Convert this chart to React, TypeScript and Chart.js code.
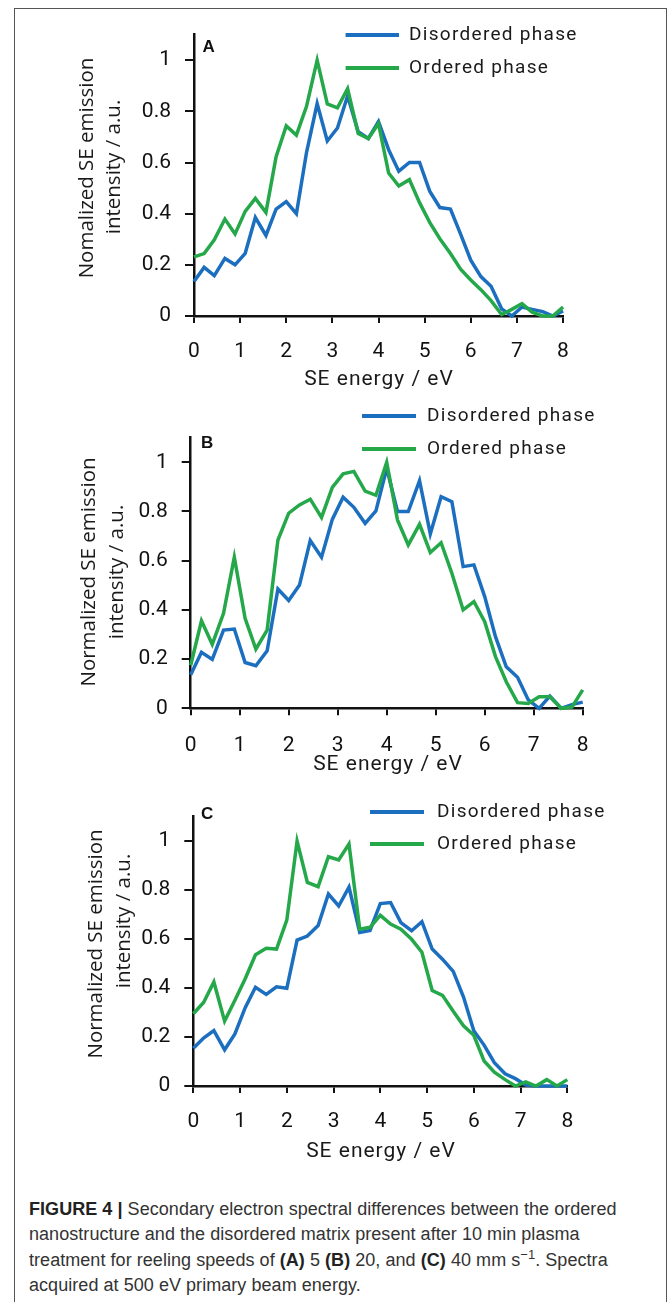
import React, { useEffect, useRef } from "react";
import { Chart, registerables } from "chart.js";

Chart.register(...registerables);

// ---------- data ----------
const ENERGY_EV = [
  0, 0.22, 0.44, 0.67, 0.89, 1.11, 1.33, 1.56, 1.78, 2, 2.22, 2.44, 2.67, 2.89, 3.11, 3.33, 3.56, 3.78, 4,
  4.22, 4.44, 4.67, 4.89, 5.11, 5.33, 5.56, 5.78, 6, 6.22, 6.44, 6.67, 6.89, 7.11, 7.33, 7.56, 7.78, 8,
];

const A_DISORDERED = [
  0.135, 0.19, 0.158, 0.225, 0.2, 0.245, 0.385, 0.315, 0.418, 0.447, 0.4, 0.64, 0.83, 0.684, 0.735, 0.86,
  0.72, 0.694, 0.76, 0.65, 0.566, 0.6, 0.6, 0.488, 0.424, 0.418, 0.32, 0.218, 0.154, 0.116, 0.028, 0,
  0.035, 0.026, 0.017, 0, 0.02,
];
const A_ORDERED = [
  0.231, 0.244, 0.298, 0.379, 0.321, 0.409, 0.46, 0.405, 0.623, 0.743, 0.707, 0.82, 1.0, 0.829, 0.814,
  0.889, 0.713, 0.694, 0.752, 0.559, 0.508, 0.533, 0.443, 0.366, 0.302, 0.244, 0.183, 0.141, 0.103, 0.06,
  0.006, 0.026, 0.048, 0.015, 0, 0, 0.035,
];
const B_DISORDERED = [
  0.136, 0.228, 0.199, 0.318, 0.322, 0.186, 0.173, 0.234, 0.485, 0.438, 0.501, 0.682, 0.614, 0.768, 0.858,
  0.817, 0.752, 0.802, 0.976, 0.8, 0.8, 0.925, 0.709, 0.86, 0.84, 0.576, 0.583, 0.454, 0.291, 0.169, 0.126,
  0.034, 0, 0.05, 0, 0.015, 0.025,
];
const B_ORDERED = [
  0.175, 0.356, 0.26, 0.386, 0.614, 0.366, 0.241, 0.318, 0.684, 0.793, 0.827, 0.85, 0.776, 0.898, 0.953,
  0.963, 0.883, 0.866, 1.0, 0.766, 0.664, 0.748, 0.633, 0.673, 0.549, 0.4, 0.434, 0.352, 0.21, 0.108, 0.023,
  0.02, 0.047, 0.047, 0, 0.005, 0.075,
];
const C_DISORDERED = [
  0.154, 0.196, 0.226, 0.148, 0.213, 0.32, 0.403, 0.374, 0.405, 0.399, 0.596, 0.612, 0.655, 0.784, 0.735,
  0.812, 0.627, 0.635, 0.745, 0.749, 0.667, 0.634, 0.671, 0.559, 0.518, 0.468, 0.363, 0.226, 0.167, 0.095,
  0.05, 0.03, 0.004, 0, 0, 0, 0,
];
const C_ORDERED = [
  0.295, 0.341, 0.425, 0.265, 0.35, 0.438, 0.536, 0.562, 0.559, 0.677, 1.0, 0.831, 0.814, 0.936, 0.923,
  0.988, 0.64, 0.648, 0.697, 0.661, 0.64, 0.599, 0.546, 0.39, 0.37, 0.305, 0.246, 0.207, 0.102, 0.056,
  0.026, 0, 0.017, 0, 0.026, 0, 0.026,
];

const X_TICKS = [0, 1, 2, 3, 4, 5, 6, 7, 8];
const Y_TICKS = [0, 0.2, 0.4, 0.6, 0.8, 1];
const Y_MAX = 1.1;
const SERIES_NAMES = ["Disordered phase", "Ordered phase"];
const PANEL_LETTERS = ["A", "B", "C"];
const Y_TITLE_LINE1 = ["Nomalized SE emission", "Normalized SE emission", "Normalized SE emission"];
const Y_TITLE_LINE2 = "intensity / a.u.";
const X_TITLE = "SE energy / eV";

// ---------- style ----------
const BLUE = "#1c6fbf";
const GREEN = "#25a84a";
const DIN = "Roboto, 'DejaVu Sans', sans-serif";
const SANS = "'Open Sans', 'DejaVu Sans', sans-serif";

type Spec = {
  top: number;
  height: number;
  left: number;
  right: number;
  chartTop: number;
  bottom: number;
  xPad: number;
  letter: [number, number];
  legend: { x1: number; x2: number; tx: number; y1: number; y2: number };
  yt1: [number, number];
  yt2: [number, number];
  xt: [number, number];
};

const SPECS: Spec[] = [
  {
    top: 8, height: 392, left: 194, right: 563, chartTop: 29.5, bottom: 316, xPad: 16,
    letter: [202.6, 47], legend: { x1: 345.6, x2: 399, tx: 409, y1: 35, y2: 68 },
    yt1: [87, 168], yt2: [114, 167], xt: [379, 380],
  },
  {
    top: 400, height: 390, left: 190.7, right: 582.7, chartTop: 437.7, bottom: 708.3, xPad: 17.5,
    letter: [201, 443], legend: { x1: 362, x2: 416, tx: 427, y1: 416, y2: 449 },
    yt1: [89.6, 572], yt2: [117, 572], xt: [388, 765],
  },
  {
    top: 790, height: 390, left: 193.3, right: 567.3, chartTop: 805.5, bottom: 1086, xPad: 16,
    letter: [201, 814], legend: { x1: 370, x2: 424, tx: 437, y1: 812, y2: 844 },
    yt1: [96, 944], yt2: [124, 921], xt: [381, 1152],
  },
];

const SERIES = [
  [A_DISORDERED, A_ORDERED],
  [B_DISORDERED, B_ORDERED],
  [C_DISORDERED, C_ORDERED],
];

function Panel({ index }: { index: number }) {
  const ref = useRef<HTMLCanvasElement | null>(null);
  const spec = SPECS[index];

  useEffect(() => {
    if (!ref.current) return;
    const [dis, ord] = SERIES[index];
    const oy = spec.top;

    const overlay = {
      id: "overlay" + index,
      afterDraw(chart: any) {
        const ctx = chart.ctx as any;
        ctx.save();
        // panel letter
        ctx.fillStyle = "#111";
        ctx.font = "bold 17px 'Liberation Sans', Arial, sans-serif";
        ctx.textAlign = "left";
        ctx.textBaseline = "middle";
        ctx.fillText(PANEL_LETTERS[index], spec.letter[0], spec.letter[1] - oy);
        // legend
        const L = spec.legend;
        const rows: [string, string, number][] = [
          [SERIES_NAMES[0], BLUE, L.y1],
          [SERIES_NAMES[1], GREEN, L.y2],
        ];
        ctx.font = `19px ${DIN}`;
        ctx.letterSpacing = "1.3px";
        for (const [name, color, y] of rows) {
          ctx.strokeStyle = color;
          ctx.lineWidth = 4;
          ctx.beginPath();
          ctx.moveTo(L.x1, y - oy);
          ctx.lineTo(L.x2, y - oy);
          ctx.stroke();
          ctx.fillStyle = "#1a1a1a";
          ctx.fillText(name, L.tx, y - oy);
        }
        // x title
        ctx.textAlign = "center";
        ctx.font = `21px ${DIN}`;
        ctx.letterSpacing = "1px";
        ctx.fillText(X_TITLE, spec.xt[0], spec.xt[1] - oy);
        ctx.letterSpacing = "0px";
        // y title (two rotated lines)
        ctx.font = `20.5px ${SANS}`;
        const lines: [string, [number, number]][] = [
          [Y_TITLE_LINE1[index], spec.yt1],
          [Y_TITLE_LINE2, spec.yt2],
        ];
        for (const [txt, pos] of lines) {
          ctx.save();
          ctx.translate(pos[0], pos[1] - oy);
          ctx.rotate(-Math.PI / 2);
          ctx.fillText(txt, 0, 0);
          ctx.restore();
        }
        ctx.restore();
      },
    };

    const chart = new Chart(ref.current, {
      type: "line",
      data: {
        datasets: [
          {
            label: SERIES_NAMES[0],
            data: ENERGY_EV.map((x, i) => ({ x, y: dis[i] })),
            borderColor: BLUE,
            borderWidth: 3.5,
            pointRadius: 0,
            tension: 0,
            fill: false,
            clip: false as any,
            order: 1,
          },
          {
            label: SERIES_NAMES[1],
            data: ENERGY_EV.map((x, i) => ({ x, y: ord[i] })),
            borderColor: GREEN,
            borderWidth: 3.5,
            pointRadius: 0,
            tension: 0,
            fill: false,
            clip: false as any,
            order: 0,
          },
        ],
      },
      options: {
        responsive: false,
        animation: false,
        events: [],
        layout: {
          padding: {
            top: spec.chartTop - oy,
            right: 669 - spec.right,
            left: 0,
            bottom: 0,
          },
        },
        plugins: {
          legend: { display: false },
          tooltip: { enabled: false },
          title: { display: false },
        },
        scales: {
          x: {
            type: "linear",
            min: 0,
            max: 8,
            afterBuildTicks: (scale: any) => {
              scale.ticks = X_TICKS.map((v) => ({ value: v }));
            },
            afterFit: (scale: any) => {
              scale.height = spec.top + spec.height - spec.bottom;
            },
            ticks: {
              color: "#111",
              font: { family: DIN, size: 21 },
              padding: spec.xPad,
              maxRotation: 0,
              autoSkip: false,
              callback: (v: any) => String(v),
            },
            grid: {
              display: true,
              drawOnChartArea: false,
              drawTicks: true,
              tickLength: 7,
              color: "#111",
              lineWidth: 2,
            },
            border: { display: true, color: "#111", width: 2.5 },
          },
          y: {
            type: "linear",
            min: 0,
            max: Y_MAX,
            afterBuildTicks: (scale: any) => {
              scale.ticks = Y_TICKS.map((v) => ({ value: v }));
            },
            afterFit: (scale: any) => {
              scale.width = spec.left;
            },
            ticks: {
              color: "#111",
              font: { family: DIN, size: 21 },
              padding: 14,
              autoSkip: false,
              callback: (v: any) => String(v),
            },
            grid: {
              display: true,
              drawOnChartArea: false,
              drawTicks: true,
              tickLength: 9,
              color: "#111",
              lineWidth: 2,
            },
            border: { display: true, color: "#111", width: 2.5 },
          },
        },
      },
      plugins: [overlay],
    } as any);

    return () => chart.destroy();
  }, []);

  return (
    <canvas
      ref={ref}
      width={669}
      height={spec.height}
      style={{ position: "absolute", left: 0, top: spec.top, width: 669, height: spec.height }}
    />
  );
}

export default function App() {
  const captionStyle: React.CSSProperties = {
    position: "absolute",
    left: 29,
    top: 1197,
    fontFamily: "'Liberation Sans', Arial, sans-serif",
    fontSize: 18,
    lineHeight: "25.3px",
    color: "#333",
    whiteSpace: "nowrap",
    letterSpacing: "0.05px",
  };
  const bold: React.CSSProperties = { color: "#222" };
  return (
    <div style={{ position: "absolute", left: 0, top: 0, width: 669, height: 1302, overflow: "hidden", background: "#fff" }}>
      <div
        style={{
          position: "absolute",
          left: 14,
          top: 8,
          width: 651,
          height: 1320,
          borderLeft: "1px solid #555",
          borderTop: "1px solid #555",
          borderRight: "1px solid #555",
        }}
      />
      {SPECS.map((_, i) => (
        <Panel key={i} index={i} />
      ))}
      <div style={captionStyle}>
        <div>
          <b style={bold}>FIGURE 4 |</b> Secondary electron spectral differences between the ordered
        </div>
        <div>nanostructure and the disordered matrix present after 10 min plasma</div>
        <div>
          treatment for reeling speeds of <b style={bold}>(A)</b> 5 <b style={bold}>(B)</b> 20, and{" "}
          <b style={bold}>(C)</b> 40 mm s<sup style={{ fontSize: 13, lineHeight: 0 }}>−1</sup>. Spectra
        </div>
        <div>acquired at 500 eV primary beam energy.</div>
      </div>
    </div>
  );
}
